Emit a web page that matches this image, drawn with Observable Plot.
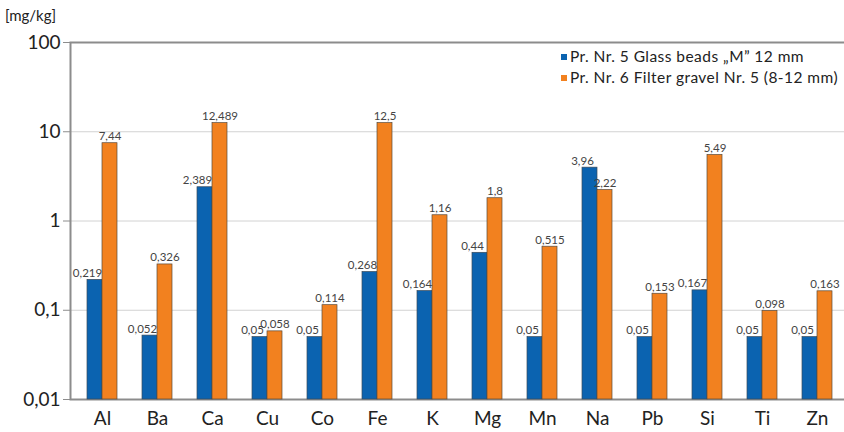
<!DOCTYPE html>
<html>
<head>
<meta charset="utf-8">
<script src="https://cdn.jsdelivr.net/npm/d3@7"></script>
<script src="https://cdn.jsdelivr.net/npm/@observablehq/plot@0.6"></script>
<style>
  html, body { margin: 0; padding: 0; background: #fff; }
  #wrap { position: relative; width: 844px; height: 432px; font-family: Lato, "Open Sans", sans-serif; }
  #unit { position: absolute; left: 5px; top: 6px; font-size: 15px; color: #222; }
  #legend { position: absolute; left: 561px; top: 46px; font-size: 15.5px; letter-spacing: 0.45px; color: #222; line-height: 21px; white-space: nowrap; }
  #legend .sw { display: inline-block; width: 6px; height: 6px; margin-right: 3px; vertical-align: middle; position: relative; top: -1px; }
</style>
</head>
<body>
<div id="wrap">
  <div id="chart"></div>
  <div id="unit">[mg/kg]</div>
  <div id="legend"></div>
</div>
<script>
const elements = ["Al","Ba","Ca","Cu","Co","Fe","K","Mg","Mn","Na","Pb","Si","Ti","Zn"];
const seriesNames = ["Pr. Nr. 5 Glass beads \u201eM\u201d 12 mm", "Pr. Nr. 6 Filter gravel Nr. 5 (8-12 mm)"];
const glassBeads = [0.219,0.052,2.389,0.05,0.05,0.268,0.164,0.44,0.05,3.96,0.05,0.167,0.05,0.05];
const filterGravel = [7.44,0.326,12.489,0.058,0.114,12.5,1.16,1.8,0.515,2.22,0.153,5.49,0.098,0.163];
const yTicks = [0.01, 0.1, 1, 10, 100];
const colors = ["#0b63b0", "#f2811f"];

const fmt = v => String(v).replace(".", ",");
const blue = elements.map((e, i) => ({element: e, value: glassBeads[i]}));
const orange = elements.map((e, i) => ({element: e, value: filterGravel[i]}));

const chart = Plot.plot({
  width: 844,
  height: 432,
  marginLeft: 70,
  marginRight: -3,
  marginTop: 42,
  marginBottom: 33,
  style: {fontFamily: "Lato, 'Open Sans', sans-serif", background: "#fff"},
  x: {domain: elements, range: [70, 849], paddingInner: 0.46, paddingOuter: 0.214, label: null, tickSize: 0, tickPadding: 12},
  y: {type: "log", domain: [0.01, 100], ticks: yTicks, tickFormat: fmt, label: null, tickSize: 7, tickPadding: 3},
  marks: [
    Plot.ruleY([0.1, 1, 10], {stroke: "#d2d2d2", strokeWidth: 1}),
    Plot.frame({stroke: "#8c8c8c", strokeWidth: 2}),
    Plot.barY(blue, {x: "element", y1: 0.01, y2: "value", fill: colors[0], stroke: "#3a4a5a", strokeWidth: 0.7, insetRight: 15}),
    Plot.barY(orange, {x: "element", y1: 0.01, y2: "value", fill: colors[1], stroke: "#5a4a3a", strokeWidth: 0.7, insetLeft: 15}),
    Plot.text(blue, {x: "element", y: "value", text: d => fmt(d.value), dx: -15, dy: -3, lineAnchor: "bottom", fontSize: 11.5, fill: "#444"}),
    Plot.text(orange, {x: "element", y: "value", text: d => fmt(d.value), dx: 7.5, dy: -3, lineAnchor: "bottom", fontSize: 11.5, fill: "#444"})
  ]
});
document.getElementById("chart").appendChild(chart);
// enlarge axis tick labels (works for both legacy and mark-based axes)
chart.querySelectorAll("g[aria-label]").forEach(g => {
  const lab = g.getAttribute("aria-label");
  if (/^(x|y)-axis( tick label)?$/.test(lab)) {
    g.setAttribute("font-size", "19");
    g.style.fontSize = "19px";
    g.querySelectorAll("text").forEach(t => { t.setAttribute("fill", "#222"); t.style.fontSize = "19px"; });
  }
  if (lab === "y-axis tick" || lab === "y-axis") {
    g.querySelectorAll("line, path").forEach(p => p.setAttribute("stroke", "#8c8c8c"));
  }
});

const legend = document.getElementById("legend");
seriesNames.forEach((name, i) => {
  const row = document.createElement("div");
  const sw = document.createElement("span");
  sw.className = "sw";
  sw.style.background = colors[i];
  row.appendChild(sw);
  row.appendChild(document.createTextNode(name));
  legend.appendChild(row);
});
</script>
</body>
</html>
